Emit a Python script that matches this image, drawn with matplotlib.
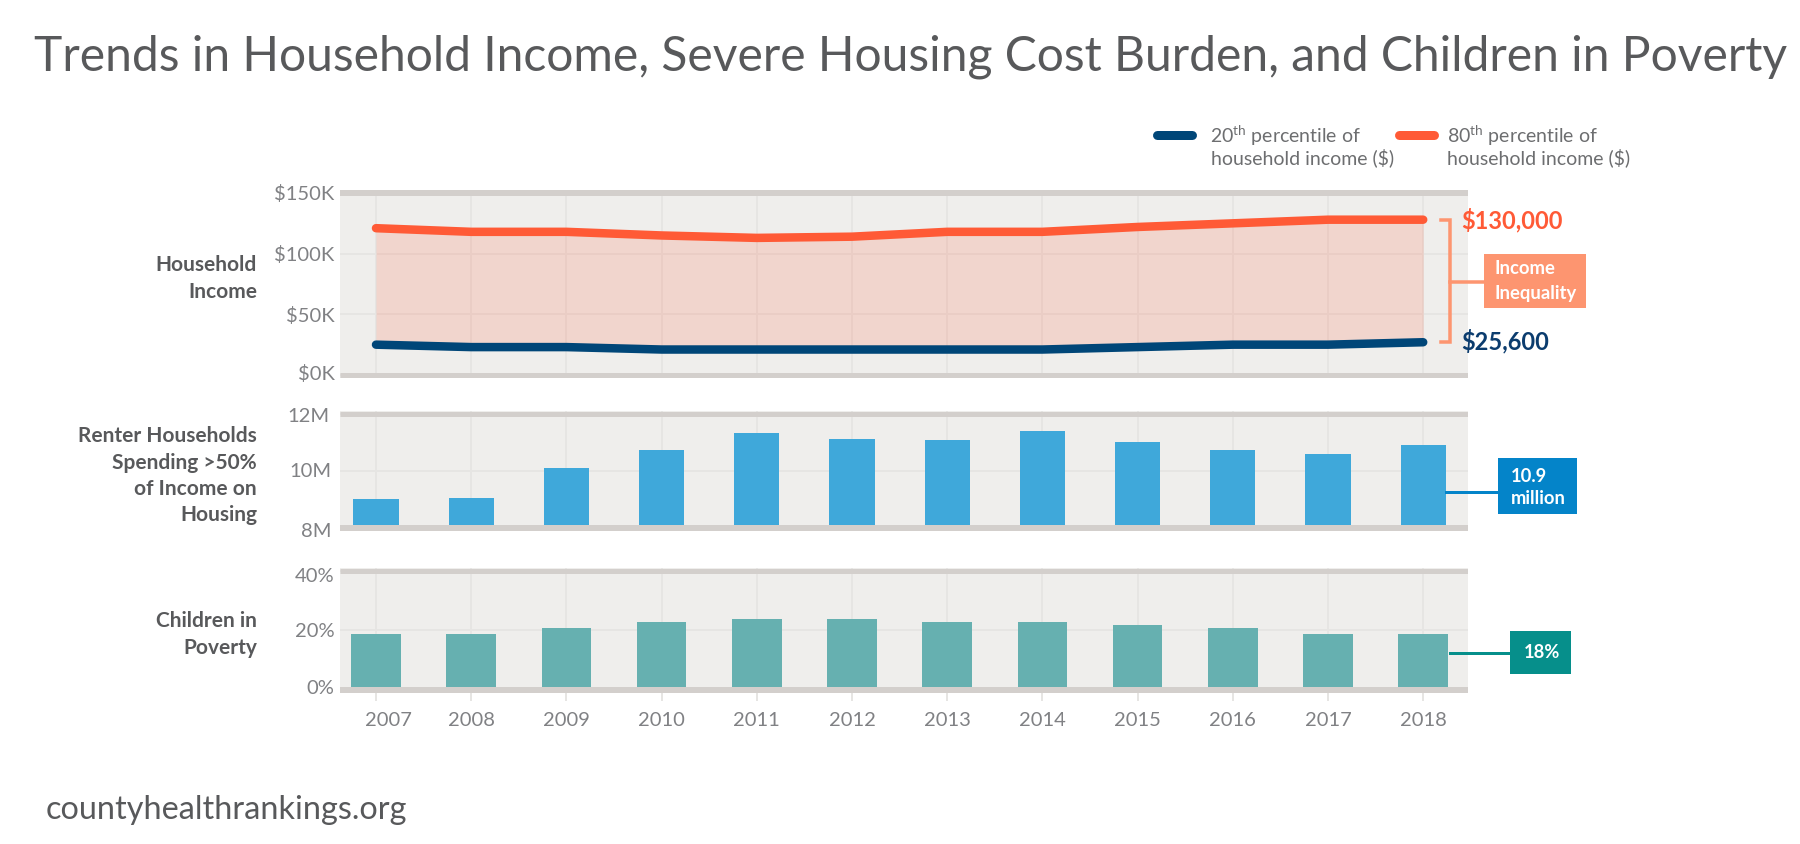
import matplotlib
matplotlib.use("Agg")
import matplotlib.pyplot as plt
from matplotlib.lines import Line2D
from matplotlib.patches import Rectangle
from matplotlib.transforms import ScaledTranslation, blended_transform_factory

plt.rcParams['font.family'] = ['Lato', 'DejaVu Sans']
plt.rcParams['mathtext.fontset'] = 'custom'
plt.rcParams['mathtext.rm'] = 'Lato'

years = [2007, 2008, 2009, 2010, 2011, 2012, 2013, 2014, 2015, 2016, 2017, 2018]
income_p80 = [121, 118, 118, 115, 113, 114, 118, 118, 122, 125, 128, 128]
income_p20 = [25, 23, 23, 21, 21, 21, 21, 21, 23, 25, 25, 27]
renters_m = [9.03, 9.07, 10.1, 10.75, 11.33, 11.12, 11.1, 11.42, 11.03, 10.72, 10.6, 10.9]
child_pov = [18.8, 18.8, 20.8, 22.9, 23.8, 23.8, 22.9, 22.9, 21.6, 20.8, 18.8, 18.8]

income_ticks = [0, 50, 100, 150]
income_tlabels = ['$0K', '$50K', '$100K', '$150K']
renter_ticks = [8, 10, 12]
renter_tlabels = ['8M', '10M', '12M']
child_ticks = [0, 20, 40]
child_tlabels = ['0%', '20%', '40%']

W, H = 1800, 844
DARK = '#58595b'
GREY = '#808184'
BG = '#efeeec'
GRID = '#e6e5e3'
BAND = '#d3cfcc'
ORANGE = '#ff5a36'
NAVY = '#004678'
SALMON = '#fd9570'
BLUE = '#0484c9'
BAR_BLUE = '#3fa8da'
TEAL = '#068f8b'
BAR_TEAL = '#66b0b0'

fig = plt.figure(figsize=(W / 100, H / 100), dpi=100, facecolor='white')


def px(n):
    return n * 72 / 100


def make_axes(top, bottom, y_top_px, y_bot_px, v_top, v_bot):
    """Axes spanning the pixel rows top..bottom with v_top at y_top_px and v_bot at y_bot_px."""
    left, right = 340, 1468
    ax = fig.add_axes([left / W, 1 - bottom / H, (right - left) / W, (bottom - top) / H])
    per_px = (v_top - v_bot) / (y_bot_px - y_top_px)
    ax.set_ylim(v_bot - (bottom - y_bot_px) * per_px, v_top + (y_top_px - top) * per_px)
    ax.set_xlim(2007 - (376 - left) / 95.2, 2007 + (right - 376) / 95.2)
    ax.set_facecolor(BG)
    for s in ax.spines.values():
        s.set_visible(False)
    ax.set_xticks(years)
    ax.grid(True, color=GRID, lw=px(2), zorder=0)
    ax.set_axisbelow(True)
    ax.tick_params(axis='both', length=0, labelsize=14.5, labelcolor=GREY)
    ax.tick_params(axis='y', pad=4)
    ax.tick_params(axis='x', labelbottom=False)
    return ax


def band(ax, v, thick):
    ax.axhline(v, color=BAND, lw=px(thick), zorder=6, solid_capstyle='butt')


def shift(label, dx, dy):
    label.set_transform(label.get_transform() + ScaledTranslation(dx / 100, -dy / 100, fig.dpi_scale_trans))


def ftext(x, y, s, **kw):
    kw.setdefault('va', 'center')
    return fig.text(x / W, 1 - y / H, s, **kw)


# ---------- Household income ----------
ax1 = make_axes(190, 378, 193, 375, 150, 0)
ax1.set_yticks(income_ticks, income_tlabels)
ax1.fill_between(years, income_p20, income_p80, color=ORANGE, alpha=0.17, lw=0, zorder=2)
ax1.plot(years, income_p80, color=ORANGE, lw=px(8.5), solid_capstyle='round', zorder=4)
ax1.plot(years, income_p20, color=NAVY, lw=px(8.5), solid_capstyle='round', zorder=4)
band(ax1, 150, 6)
band(ax1, 0, 5)
shift(ax1.get_yticklabels()[0], 0, -3)
shift(ax1.get_yticklabels()[3], 0, -1)

# ---------- Renters ----------
ax2 = make_axes(411, 531, 414, 528, 12, 8)
ax2.set_yticks(renter_ticks, renter_tlabels)
ax2.bar(years, [v - 8 for v in renters_m], bottom=8, width=0.475, color=BAR_BLUE, zorder=3)
band(ax2, 12, 5)
band(ax2, 8, 6)
shift(ax2.get_yticklabels()[2], -5, 1)
shift(ax2.get_yticklabels()[1], -3, -1)
shift(ax2.get_yticklabels()[0], -3, 2)

# ---------- Children in poverty ----------
ax3 = make_axes(568, 693, 570.5, 690, 40, 0)
ax3.set_yticks(child_ticks, child_tlabels)
ax3.bar(years, child_pov, width=0.52, color=BAR_TEAL, zorder=3)
band(ax3, 40, 5)
band(ax3, 0, 6)
ax3.tick_params(axis='x', labelbottom=True, length=6, width=px(2), color=GRID, pad=8)
ax3.set_xticks(years, [str(y) for y in years])
shift(ax3.get_xticklabels()[0], 12, 0)
shift(ax3.get_yticklabels()[0], 0, -3)
shift(ax3.get_yticklabels()[2], 0, 4)

# ---------- Title and row labels ----------
ftext(34, 57, 'Trends in Household Income, Severe Housing Cost Burden, and Children in Poverty',
      fontsize=34.6, color=DARK, ha='left')
ftext(46, 810, 'countyhealthrankings.org', fontsize=23.3, color=DARK, ha='left')


def row_label(lines, ys):
    for s, y in zip(lines, ys):
        ftext(257, y, s, fontsize=15.05, color=DARK, ha='right', fontweight='bold')


row_label(['Household', 'Income'], [265, 292])
row_label(['Renter Households', 'Spending >50%', 'of Income on', 'Housing'], [436, 463, 489, 515])
row_label(['Children in', 'Poverty'], [621, 648])

# ---------- Legend ----------
for x0, x1, col in [(1157, 1192, NAVY), (1399, 1434, ORANGE)]:
    fig.add_artist(Line2D([x0 / W, x1 / W], [1 - 135 / H] * 2, color=col, lw=px(9),
                          solid_capstyle='round', transform=fig.transFigure))
ftext(1210, 136, r'20$^{\mathrm{th}}$ percentile of', fontsize=14, color='#6d6e70', ha='left')
ftext(1211, 158, r'household income (\$)', fontsize=14, color='#6d6e70', ha='left')
ftext(1447, 136, r'80$^{\mathrm{th}}$ percentile of', fontsize=14, color='#6d6e70', ha='left')
ftext(1447, 158, r'household income (\$)', fontsize=14, color='#6d6e70', ha='left')

# ---------- Income annotations ----------
val_hi, val_lo = income_p80[-1], income_p20[-1]
tr = blended_transform_factory(fig.transFigure, ax1.transData)
xa, xb = 1441 / W, 1450 / W
ax1.add_line(Line2D([xa, xb, xb, xa], [val_hi, val_hi, val_lo, val_lo], color=SALMON, lw=px(3.5),
                    transform=tr, clip_on=False, zorder=7, solid_joinstyle='miter'))
fig.add_artist(Line2D([1450 / W, 1484 / W], [1 - 282 / H] * 2, color=SALMON, lw=px(3.5),
                      transform=fig.transFigure))
fig.add_artist(Rectangle((1484 / W, 1 - 308 / H), 102 / W, 54 / H, color=SALMON, lw=0,
                         transform=fig.transFigure, zorder=3))
ftext(1495, 269, 'Income', fontsize=13.3, color='white', ha='left', fontweight='bold', zorder=5)
ftext(1495, 293, 'Inequality', fontsize=13.3, color='white', ha='left', fontweight='bold', zorder=5)
ftext(1461, 220, r'\$130,000', fontsize=17, color=ORANGE, ha='left', fontweight='bold', zorder=5)
ftext(1461, 341, r'\$25,600', fontsize=17, color='#0b3c6e', ha='left', fontweight='bold', zorder=5)

# ---------- Renter callout ----------
fig.add_artist(Line2D([1446 / W, 1498 / W], [1 - 492 / H] * 2, color=BLUE, lw=px(3),
                      transform=fig.transFigure))
fig.add_artist(Rectangle((1498 / W, 1 - 514 / H), 79 / W, 56 / H, color=BLUE, lw=0,
                         transform=fig.transFigure, zorder=3))
ftext(1511, 477, '10.9', fontsize=13.2, color='white', ha='left', fontweight='bold', zorder=5)
ftext(1511, 499, 'million', fontsize=13.2, color='white', ha='left', fontweight='bold', zorder=5)

# ---------- Poverty callout ----------
fig.add_artist(Line2D([1450 / W, 1510 / W], [1 - 653 / H] * 2, color=TEAL, lw=px(3),
                      transform=fig.transFigure))
fig.add_artist(Rectangle((1510 / W, 1 - 674 / H), 61 / W, 43 / H, color=TEAL, lw=0,
                         transform=fig.transFigure, zorder=3))
ftext(1542, 653, '18%', fontsize=13.2, color='white', ha='center', fontweight='bold', zorder=5)

fig.savefig('out.png', dpi=100, facecolor='white')
